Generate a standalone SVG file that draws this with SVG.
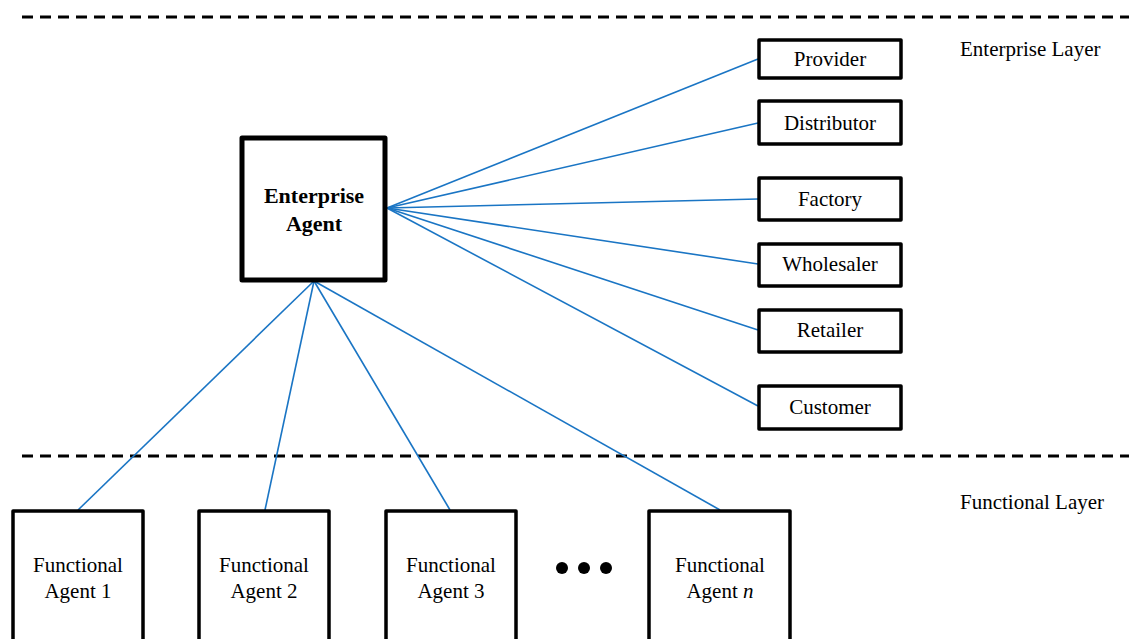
<svg xmlns="http://www.w3.org/2000/svg" width="1129" height="639" viewBox="0 0 1129 639">
<style>
.box{fill:#fff;stroke:#000;stroke-width:3.5;stroke-linejoin:round}
.big{fill:#fff;stroke:#000;stroke-width:5;stroke-linejoin:round}
.t{font-family:"Liberation Serif","Times New Roman",serif;font-size:21px;fill:#000;text-anchor:middle}
.tb{font-family:"Liberation Serif","Times New Roman",serif;font-size:22px;font-weight:bold;fill:#000;text-anchor:middle}
.lbl{font-family:"Liberation Serif","Times New Roman",serif;font-size:21px;fill:#000}
.dash{stroke:#000;stroke-width:3;stroke-dasharray:11 7;fill:none}
.c{stroke:#1a75c4;stroke-width:1.6;fill:none}
</style>
<rect width="1129" height="639" fill="#fff"/>
<g id="layers">
<line class="dash" x1="22" y1="17" x2="1129" y2="17"/>
<line class="dash" x1="22" y1="456" x2="1129" y2="456"/>
<text class="lbl" x="960" y="56">Enterprise Layer</text>
<text class="lbl" x="960" y="509">Functional Layer</text>
</g>
<g id="connectors">
<line class="c" x1="387" y1="208" x2="758" y2="59"/>
<line class="c" x1="387" y1="208" x2="758" y2="123"/>
<line class="c" x1="387" y1="208" x2="758" y2="199"/>
<line class="c" x1="387" y1="208" x2="758" y2="264"/>
<line class="c" x1="387" y1="208" x2="758" y2="330"/>
<line class="c" x1="387" y1="208" x2="758" y2="406"/>
<line class="c" x1="314" y1="281" x2="78" y2="510"/>
<line class="c" x1="314" y1="281" x2="265" y2="510"/>
<line class="c" x1="314" y1="281" x2="450" y2="510"/>
<line class="c" x1="314" y1="281" x2="720" y2="510"/>
</g>
<g id="enterprise-agent">
<rect class="big" x="242" y="138" width="143" height="142"/>
<text class="tb" x="314" y="203">Enterprise</text>
<text class="tb" x="314" y="231">Agent</text>
</g>
<g id="provider"><rect class="box" x="759" y="40" width="142" height="38"/><text class="t" x="830" y="66">Provider</text></g>
<g id="distributor"><rect class="box" x="759" y="101" width="142" height="43"/><text class="t" x="830" y="130">Distributor</text></g>
<g id="factory"><rect class="box" x="759" y="178" width="142" height="42"/><text class="t" x="830" y="206">Factory</text></g>
<g id="wholesaler"><rect class="box" x="759" y="244" width="142" height="42"/><text class="t" x="830" y="271">Wholesaler</text></g>
<g id="retailer"><rect class="box" x="759" y="310" width="142" height="42"/><text class="t" x="830" y="337">Retailer</text></g>
<g id="customer"><rect class="box" x="759" y="386" width="142" height="43"/><text class="t" x="830" y="414">Customer</text></g>
<g id="functional-1"><rect class="box" x="13" y="511" width="130" height="140"/><text class="t" x="78" y="572">Functional</text><text class="t" x="78" y="598">Agent 1</text></g>
<g id="functional-2"><rect class="box" x="199" y="511" width="130" height="140"/><text class="t" x="264" y="572">Functional</text><text class="t" x="264" y="598">Agent 2</text></g>
<g id="functional-3"><rect class="box" x="386" y="511" width="130" height="140"/><text class="t" x="451" y="572">Functional</text><text class="t" x="451" y="598">Agent 3</text></g>
<g id="ellipsis"><circle cx="562" cy="568" r="6"/><circle cx="584" cy="568" r="6"/><circle cx="606" cy="568" r="6"/></g>
<g id="functional-n"><rect class="box" x="649" y="511" width="141" height="140"/><text class="t" x="720" y="572">Functional</text><text class="t" x="720" y="598">Agent <tspan font-style="italic">n</tspan></text></g>
</svg>
